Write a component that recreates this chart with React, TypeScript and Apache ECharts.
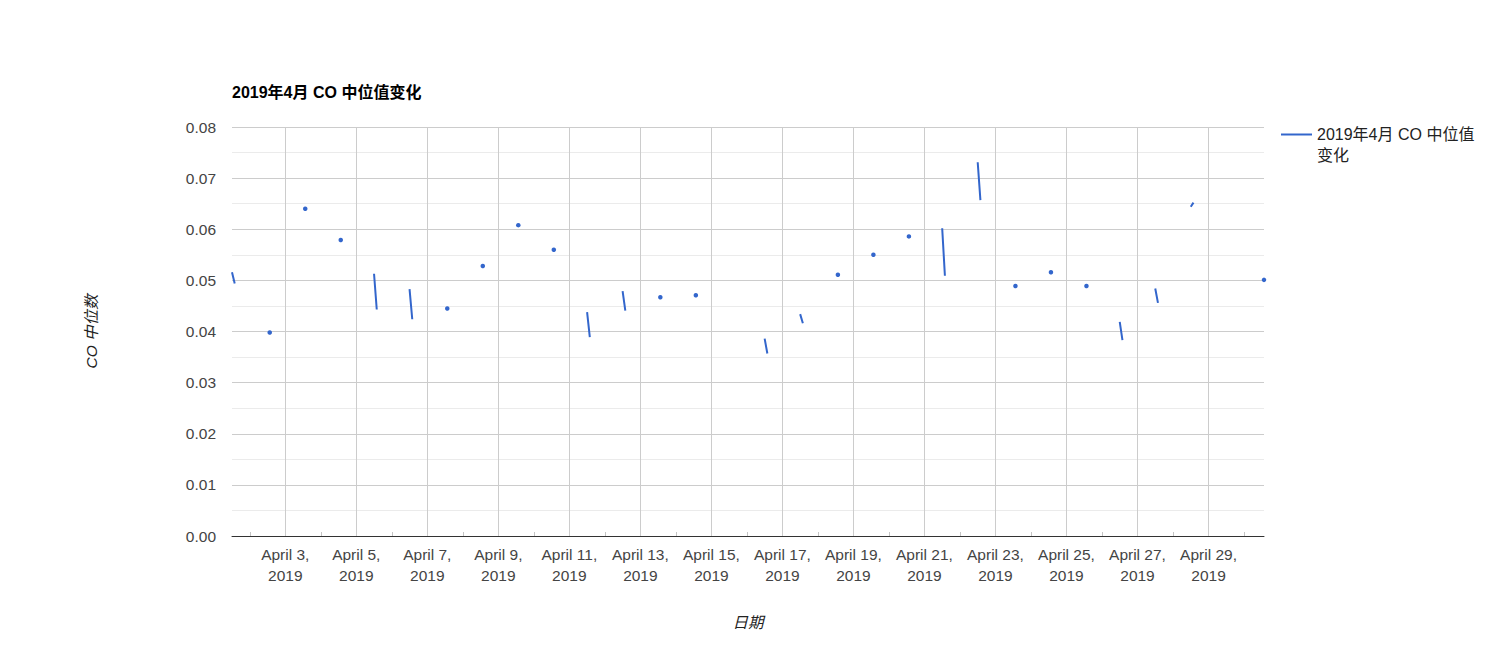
import React, { useEffect, useRef } from 'react';
import * as echarts from 'echarts';

// ---- data ----
const YEAR = 2019;
const MONTH_INDEX = 3; // April
const seriesName = '2019年4月 CO 中位值变化';
const legendLines = ['2019年4月 CO 中位值', '变化'];
const xAxisName = '日期';
const yAxisName = 'CO 中位数';

const days = [
  1, 2, 3, 4, 5, 6, 7, 8, 9, 10, 11, 12, 13, 14, 15,
  16, 17, 18, 19, 20, 21, 22, 23, 24, 25, 26, 27, 28, 29, 30,
];
// first reading of each day (null = no data)
const firstReading: (number | null)[] = [
  0.0516, 0.0398, 0.064, 0.0579, 0.0513, 0.0483, 0.0445, 0.0528, 0.0608, 0.056,
  0.0438, 0.0479, 0.0467, 0.0471, null, 0.0386, 0.0434, 0.0511, 0.055, 0.0586,
  0.0602, 0.0731, 0.0489, 0.0516, 0.0489, 0.0419, 0.0484, 0.0644, null, 0.0501,
];
// second reading of each day (null = single reading)
const secondReading: (number | null)[] = [
  0.0494, null, null, null, 0.0443, 0.0424, null, null, null, null,
  0.0389, 0.0441, null, null, null, 0.0357, 0.0416, null, null, null,
  0.0509, 0.0657, null, null, null, 0.0383, 0.0456, 0.0652, null, null,
];
const firstHour = 12;
const secondHour = 13.83;
const singleHour = 13.5;
const breakHour = 20;
const axisStart = { day: 1, hour: 12 };
const axisEnd = { day: 30, hour: 13.5 };
const labelDays = [3, 5, 7, 9, 11, 13, 15, 17, 19, 21, 23, 25, 27, 29];
const minorTickDays = [2, 4, 6, 8, 10, 12, 14, 16, 18, 20, 22, 24, 26, 28, 30];
const MONTH_NAME = 'April';
const yMin = 0;
const yMax = 0.08;
const yInterval = 0.01;

const ts = (d: number, h: number) => Date.UTC(YEAR, MONTH_INDEX, d) + h * 3600000;

const FONT = '"Liberation Sans", Arial, "Noto Sans CJK SC", sans-serif';
const COLOR = '#3366cc';

function buildPoints() {
  const pts: any[] = [];
  days.forEach((d, i) => {
    const a = firstReading[i];
    const b = secondReading[i];
    if (a == null) return;
    if (b == null) {
      pts.push({ value: [ts(d, singleHour), a], symbol: 'circle' });
    } else {
      pts.push({ value: [ts(d, firstHour), a], symbol: 'none' });
      pts.push({ value: [ts(d, secondHour), b], symbol: 'none' });
    }
    pts.push({ value: [ts(d, breakHour), '-'], symbol: 'none' });
  });
  return pts;
}

export default function App() {
  const ref = useRef<HTMLDivElement>(null);
  useEffect(() => {
    document.body.style.margin = '0';
    if (!ref.current) return;
    const chart = echarts.init(ref.current, undefined, { renderer: 'svg' });
    const xMin = ts(axisStart.day, axisStart.hour);
    const xMax = ts(axisEnd.day, axisEnd.hour);
    const labelVals = labelDays.map((d) => ts(d, 0));
    const minorVals = minorTickDays.map((d) => ts(d, 0));
    chart.setOption({
      animation: false,
      backgroundColor: '#fff',
      title: {
        text: seriesName,
        left: 232,
        top: 84,
        padding: 0,
        textStyle: { fontSize: 16, fontWeight: 'bold', color: '#000', fontFamily: FONT },
      },
      legend: {
        left: 1281,
        top: 103,
        padding: 0,
        icon: 'rect',
        itemWidth: 31,
        itemHeight: 2,
        selectedMode: false,
        formatter: () => '\n' + legendLines.join('\n'),
        textStyle: { fontSize: 16, lineHeight: 21, color: '#222', fontFamily: FONT },
        data: [seriesName],
      },
      grid: { left: 232, right: 232, top: 127, bottom: 128, containLabel: false },
      xAxis: [
        {
          type: 'value',
          min: xMin,
          max: xMax,
          position: 'bottom',
          axisLine: { show: true, onZero: false, lineStyle: { color: '#333', width: 1 } },
          axisTick: { show: false, customValues: labelVals },
          axisLabel: {
            customValues: labelVals,
            formatter: (v: number) => {
              const dt = new Date(v);
              return `${MONTH_NAME} ${dt.getUTCDate()},\n${dt.getUTCFullYear()}`;
            },
            color: '#444',
            fontSize: 15.5,
            lineHeight: 21,
            margin: 8,
            fontFamily: FONT,
          },
          splitLine: { show: true, lineStyle: { color: '#ccc', width: 1 } },
          name: xAxisName,
          nameLocation: 'middle',
          nameGap: 79,
          nameTextStyle: { fontStyle: 'italic', color: '#222', fontSize: 15.5, fontFamily: FONT },
        },
        {
          type: 'value',
          min: xMin,
          max: xMax,
          position: 'bottom',
          gridIndex: 0,
          axisLine: { show: false, onZero: false },
          axisLabel: { show: false },
          splitLine: { show: false },
          axisTick: {
            show: true,
            inside: true,
            length: 4,
            customValues: minorVals,
            lineStyle: { color: '#c4c4c4' },
          },
        },
      ],
      yAxis: {
        type: 'value',
        min: yMin,
        max: yMax,
        interval: yInterval,
        axisLine: { show: false },
        axisTick: { show: false },
        axisLabel: {
          formatter: (v: number) => v.toFixed(2),
          color: '#444',
          fontSize: 15.5,
          margin: 16,
          fontFamily: FONT,
        },
        splitLine: { show: true, lineStyle: { color: '#ccc', width: 1 } },
        minorTick: { show: false, splitNumber: 2 },
        minorSplitLine: { show: true, lineStyle: { color: '#ebebeb', width: 1 } },
        name: yAxisName,
        nameLocation: 'middle',
        nameGap: 133,
        nameTextStyle: { fontStyle: 'italic', color: '#222', fontSize: 15.5, fontFamily: FONT },
      },
      series: [
        {
          type: 'line',
          name: seriesName,
          xAxisIndex: 0,
          yAxisIndex: 0,
          data: buildPoints(),
          color: COLOR,
          symbol: 'circle',
          symbolSize: 4.5,
          showSymbol: true,
          connectNulls: false,
          clip: true,
          lineStyle: { width: 2, color: COLOR },
          itemStyle: { color: COLOR, borderWidth: 0 },
          emphasis: { disabled: true },
        },
      ],
    });
    return () => chart.dispose();
  }, []);
  return <div ref={ref} style={{ width: 1496, height: 664 }} />;
}
